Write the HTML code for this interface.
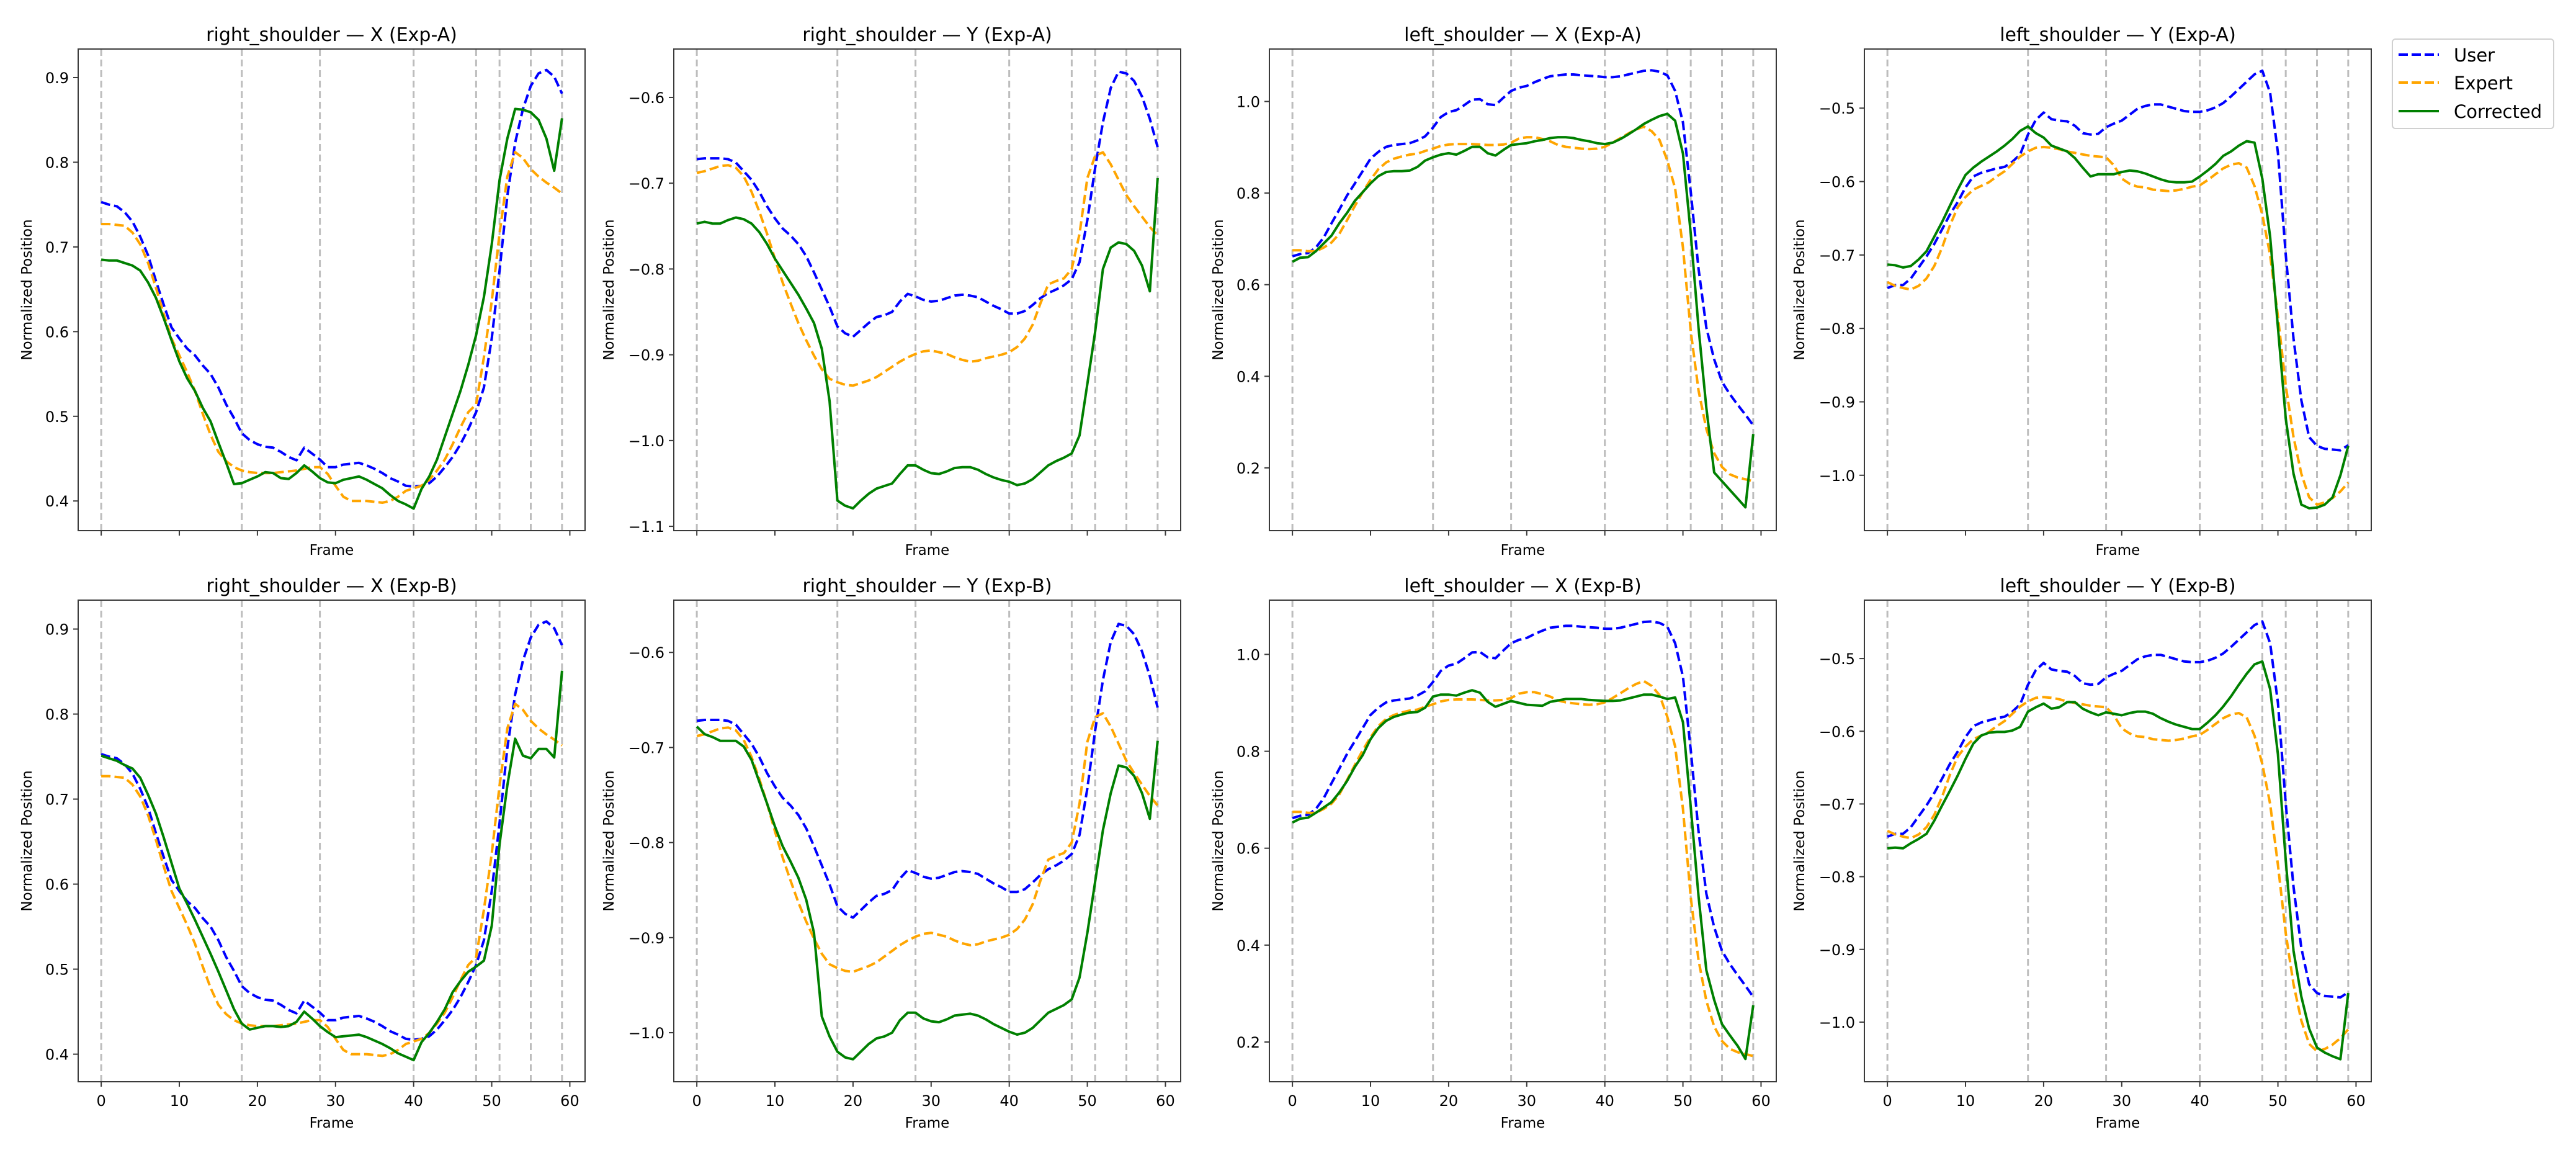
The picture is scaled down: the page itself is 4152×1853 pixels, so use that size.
<!DOCTYPE html>
<html><head><meta charset="utf-8"><title>Shoulder trajectories</title>
<style>
html,body{margin:0;padding:0;background:#fff;}
svg{display:block;font-family:"DejaVu Sans","Liberation Sans",sans-serif;}
</style></head>
<body>
<svg id="fig" width="4152" height="1853" viewBox="0 0 4152 1853" xmlns="http://www.w3.org/2000/svg">
<rect x="0" y="0" width="4152" height="1853" fill="#fff"/>
<g id="legend">
<rect x="3856" y="63" width="260" height="144" rx="5" fill="#fff" stroke="#d0d0d0" stroke-width="2"/>
<g><line x1="3866" y1="88" x2="3931" y2="88" stroke="#0000ff" stroke-width="4" stroke-dasharray="15 6"/><text x="3955" y="99" font-size="29" fill="#000">User</text></g>
<g><line x1="3866" y1="133" x2="3931" y2="133" stroke="#ffa500" stroke-width="4" stroke-dasharray="15 6"/><text x="3955" y="144" font-size="29" fill="#000">Expert</text></g>
<g><line x1="3866" y1="179" x2="3931" y2="179" stroke="#008000" stroke-width="4"/><text x="3955" y="190" font-size="29" fill="#000">Corrected</text></g>
</g>
</svg>
<script>
const frames = Array.from({length:60},(_, i)=>i);
const keyFrames = [0,18,28,40,48,51,55,59];
const xTicks = [0,10,20,30,40,50,60];

const rsxUser = [0.753,0.750,0.748,0.741,0.730,0.712,0.690,0.660,0.632,0.605,0.592,0.580,0.572,0.560,0.550,0.534,0.514,0.498,0.480,0.472,0.467,0.464,0.463,0.458,0.452,0.448,0.463,0.456,0.449,0.440,0.440,0.443,0.444,0.445,0.442,0.438,0.433,0.427,0.423,0.418,0.417,0.418,0.421,0.429,0.440,0.452,0.467,0.485,0.505,0.534,0.592,0.672,0.760,0.823,0.863,0.890,0.905,0.909,0.901,0.881];
const rsxExpert = [0.727,0.727,0.726,0.725,0.717,0.703,0.681,0.652,0.621,0.592,0.572,0.552,0.530,0.503,0.478,0.458,0.447,0.440,0.436,0.434,0.433,0.433,0.433,0.434,0.435,0.436,0.438,0.440,0.440,0.432,0.418,0.405,0.400,0.400,0.400,0.399,0.398,0.400,0.405,0.412,0.415,0.418,0.425,0.436,0.449,0.467,0.487,0.505,0.514,0.570,0.636,0.716,0.783,0.812,0.805,0.792,0.783,0.776,0.770,0.763];
const rsxCorrA = [0.685,0.684,0.684,0.681,0.678,0.672,0.658,0.640,0.616,0.590,0.565,0.545,0.530,0.510,0.494,0.469,0.445,0.420,0.421,0.425,0.429,0.434,0.433,0.427,0.426,0.433,0.442,0.435,0.427,0.422,0.421,0.425,0.427,0.429,0.425,0.420,0.415,0.407,0.400,0.396,0.391,0.414,0.429,0.449,0.476,0.503,0.530,0.561,0.596,0.641,0.703,0.779,0.828,0.863,0.862,0.859,0.850,0.828,0.790,0.852];
const rsxCorrB = [0.751,0.748,0.745,0.740,0.736,0.725,0.705,0.683,0.655,0.625,0.595,0.577,0.558,0.538,0.518,0.497,0.475,0.453,0.436,0.429,0.431,0.433,0.433,0.432,0.433,0.438,0.450,0.442,0.433,0.426,0.420,0.421,0.422,0.423,0.420,0.416,0.412,0.407,0.401,0.397,0.393,0.414,0.425,0.438,0.453,0.473,0.486,0.497,0.503,0.510,0.551,0.647,0.716,0.771,0.751,0.748,0.759,0.759,0.749,0.851];

const rsyUser = [-0.672,-0.671,-0.671,-0.671,-0.672,-0.676,-0.686,-0.696,-0.710,-0.727,-0.741,-0.753,-0.761,-0.771,-0.785,-0.804,-0.824,-0.844,-0.867,-0.875,-0.879,-0.871,-0.863,-0.856,-0.854,-0.850,-0.838,-0.829,-0.832,-0.836,-0.838,-0.837,-0.834,-0.831,-0.830,-0.831,-0.833,-0.838,-0.843,-0.847,-0.852,-0.852,-0.849,-0.842,-0.834,-0.828,-0.824,-0.819,-0.812,-0.792,-0.743,-0.682,-0.629,-0.589,-0.570,-0.572,-0.581,-0.599,-0.625,-0.658];
const rsyExpert = [-0.688,-0.686,-0.683,-0.680,-0.679,-0.682,-0.692,-0.710,-0.733,-0.759,-0.788,-0.816,-0.840,-0.863,-0.883,-0.901,-0.917,-0.928,-0.932,-0.935,-0.936,-0.933,-0.930,-0.926,-0.920,-0.914,-0.908,-0.903,-0.899,-0.896,-0.895,-0.897,-0.899,-0.903,-0.906,-0.908,-0.907,-0.904,-0.902,-0.900,-0.897,-0.891,-0.881,-0.865,-0.840,-0.818,-0.814,-0.811,-0.800,-0.759,-0.694,-0.668,-0.664,-0.678,-0.696,-0.714,-0.727,-0.739,-0.751,-0.761];
const rsyCorrA = [-0.747,-0.745,-0.747,-0.747,-0.743,-0.740,-0.742,-0.747,-0.757,-0.771,-0.788,-0.802,-0.816,-0.830,-0.846,-0.863,-0.893,-0.954,-1.070,-1.076,-1.079,-1.070,-1.062,-1.056,-1.053,-1.050,-1.039,-1.029,-1.029,-1.034,-1.038,-1.039,-1.036,-1.032,-1.031,-1.031,-1.034,-1.039,-1.043,-1.046,-1.048,-1.052,-1.050,-1.045,-1.037,-1.029,-1.024,-1.020,-1.015,-0.994,-0.934,-0.873,-0.800,-0.775,-0.769,-0.771,-0.779,-0.796,-0.826,-0.694];
const rsyCorrB = [-0.678,-0.686,-0.689,-0.693,-0.693,-0.693,-0.699,-0.713,-0.736,-0.759,-0.783,-0.804,-0.820,-0.837,-0.860,-0.895,-0.983,-1.004,-1.020,-1.026,-1.028,-1.020,-1.012,-1.006,-1.004,-1.000,-0.987,-0.979,-0.979,-0.985,-0.988,-0.989,-0.986,-0.982,-0.981,-0.980,-0.982,-0.986,-0.991,-0.995,-0.999,-1.002,-1.000,-0.995,-0.987,-0.979,-0.975,-0.971,-0.965,-0.942,-0.895,-0.841,-0.787,-0.748,-0.719,-0.721,-0.730,-0.748,-0.775,-0.693];

const lsxUser = [0.662,0.667,0.669,0.681,0.703,0.734,0.764,0.795,0.821,0.848,0.875,0.890,0.901,0.905,0.907,0.909,0.915,0.924,0.943,0.966,0.977,0.981,0.992,1.004,1.005,0.994,0.992,1.008,1.023,1.030,1.034,1.042,1.049,1.055,1.057,1.059,1.059,1.057,1.056,1.055,1.053,1.053,1.055,1.059,1.063,1.067,1.068,1.065,1.057,1.023,0.954,0.802,0.635,0.506,0.437,0.388,0.361,0.338,0.316,0.293];
const lsxExpert = [0.675,0.675,0.673,0.673,0.681,0.692,0.711,0.741,0.772,0.802,0.829,0.852,0.867,0.875,0.880,0.884,0.886,0.892,0.897,0.903,0.906,0.907,0.907,0.907,0.906,0.905,0.905,0.906,0.910,0.919,0.922,0.922,0.918,0.913,0.905,0.901,0.899,0.897,0.896,0.897,0.901,0.910,0.920,0.930,0.939,0.945,0.935,0.916,0.871,0.810,0.681,0.498,0.369,0.285,0.232,0.202,0.186,0.179,0.175,0.171];
const lsxCorrA = [0.650,0.659,0.660,0.673,0.690,0.707,0.734,0.757,0.783,0.802,0.821,0.837,0.846,0.848,0.848,0.849,0.857,0.871,0.878,0.884,0.887,0.884,0.892,0.901,0.901,0.887,0.882,0.894,0.905,0.907,0.909,0.913,0.916,0.920,0.922,0.922,0.920,0.916,0.913,0.909,0.907,0.910,0.918,0.928,0.939,0.951,0.960,0.968,0.973,0.958,0.886,0.711,0.506,0.331,0.190,0.171,0.152,0.133,0.114,0.274];
const lsxCorrB = [0.653,0.661,0.663,0.673,0.684,0.695,0.715,0.739,0.768,0.792,0.825,0.848,0.863,0.871,0.876,0.880,0.881,0.890,0.913,0.917,0.917,0.915,0.921,0.926,0.921,0.902,0.892,0.898,0.904,0.900,0.896,0.895,0.894,0.902,0.905,0.908,0.908,0.908,0.906,0.905,0.904,0.904,0.905,0.909,0.913,0.917,0.917,0.913,0.908,0.911,0.860,0.684,0.501,0.348,0.287,0.237,0.214,0.192,0.165,0.276];

const lsyUser = [-0.745,-0.741,-0.741,-0.732,-0.717,-0.702,-0.685,-0.665,-0.645,-0.628,-0.608,-0.593,-0.588,-0.585,-0.582,-0.580,-0.573,-0.563,-0.536,-0.516,-0.506,-0.515,-0.517,-0.518,-0.524,-0.534,-0.536,-0.535,-0.526,-0.521,-0.517,-0.509,-0.501,-0.497,-0.495,-0.495,-0.498,-0.501,-0.504,-0.505,-0.505,-0.503,-0.499,-0.493,-0.484,-0.474,-0.464,-0.454,-0.449,-0.479,-0.561,-0.700,-0.814,-0.898,-0.948,-0.960,-0.964,-0.965,-0.966,-0.959];
const lsyExpert = [-0.737,-0.742,-0.745,-0.747,-0.742,-0.732,-0.715,-0.690,-0.660,-0.635,-0.621,-0.611,-0.606,-0.601,-0.593,-0.586,-0.576,-0.566,-0.559,-0.554,-0.553,-0.554,-0.556,-0.559,-0.561,-0.563,-0.565,-0.566,-0.567,-0.578,-0.596,-0.603,-0.607,-0.608,-0.611,-0.612,-0.613,-0.612,-0.610,-0.607,-0.605,-0.598,-0.590,-0.582,-0.577,-0.575,-0.581,-0.606,-0.645,-0.700,-0.784,-0.878,-0.948,-0.998,-1.030,-1.040,-1.037,-1.031,-1.022,-1.010];
const lsyCorrA = [-0.713,-0.714,-0.717,-0.715,-0.706,-0.695,-0.675,-0.655,-0.633,-0.611,-0.591,-0.581,-0.573,-0.566,-0.559,-0.551,-0.542,-0.531,-0.525,-0.534,-0.540,-0.551,-0.555,-0.559,-0.568,-0.581,-0.593,-0.590,-0.590,-0.590,-0.587,-0.585,-0.586,-0.589,-0.593,-0.597,-0.600,-0.601,-0.601,-0.600,-0.593,-0.585,-0.576,-0.565,-0.559,-0.551,-0.545,-0.547,-0.596,-0.675,-0.799,-0.923,-0.998,-1.040,-1.045,-1.044,-1.040,-1.030,-1.000,-0.960];
const lsyCorrB = [-0.761,-0.760,-0.761,-0.754,-0.748,-0.741,-0.723,-0.702,-0.682,-0.661,-0.638,-0.617,-0.606,-0.602,-0.601,-0.601,-0.599,-0.594,-0.573,-0.567,-0.562,-0.569,-0.567,-0.560,-0.560,-0.569,-0.574,-0.578,-0.574,-0.576,-0.578,-0.575,-0.573,-0.573,-0.576,-0.582,-0.587,-0.591,-0.594,-0.597,-0.597,-0.588,-0.578,-0.566,-0.552,-0.536,-0.521,-0.508,-0.504,-0.542,-0.632,-0.778,-0.902,-0.965,-1.009,-1.035,-1.042,-1.047,-1.051,-0.960];

const yTicksRSX = [0.4,0.5,0.6,0.7,0.8,0.9];
const yTicksRSYA = [-1.1,-1.0,-0.9,-0.8,-0.7,-0.6];
const yTicksRSYB = [-1.0,-0.9,-0.8,-0.7,-0.6];
const yTicksLSX = [0.2,0.4,0.6,0.8,1.0];
const yTicksLSY = [-1.0,-0.9,-0.8,-0.7,-0.6,-0.5];

const panels = [
 {name:'rsx-a', title:'right_shoulder \u2014 X (Exp-A)', col:0,row:0, user:rsxUser, expert:rsxExpert, corr:rsxCorrA, ylim:[0.365,0.9337], yt:yTicksRSX},
 {name:'rsy-a', title:'right_shoulder \u2014 Y (Exp-A)', col:1,row:0, user:rsyUser, expert:rsyExpert, corr:rsyCorrA, ylim:[-1.105,-0.5436], yt:yTicksRSYA},
 {name:'lsx-a', title:'left_shoulder \u2014 X (Exp-A)', col:2,row:0, user:lsxUser, expert:lsxExpert, corr:lsxCorrA, ylim:[0.063,1.1145], yt:yTicksLSX},
 {name:'lsy-a', title:'left_shoulder \u2014 Y (Exp-A)', col:3,row:0, user:lsyUser, expert:lsyExpert, corr:lsyCorrA, ylim:[-1.0754,-0.4195], yt:yTicksLSY},
 {name:'rsx-b', title:'right_shoulder \u2014 X (Exp-B)', col:0,row:1, user:rsxUser, expert:rsxExpert, corr:rsxCorrB, ylim:[0.3676,0.934], yt:yTicksRSX},
 {name:'rsy-b', title:'right_shoulder \u2014 Y (Exp-B)', col:1,row:1, user:rsyUser, expert:rsyExpert, corr:rsyCorrB, ylim:[-1.0516,-0.545], yt:yTicksRSYB},
 {name:'lsx-b', title:'left_shoulder \u2014 X (Exp-B)', col:2,row:1, user:lsxUser, expert:lsxExpert, corr:lsxCorrB, ylim:[0.118,1.112], yt:yTicksLSX},
 {name:'lsy-b', title:'left_shoulder \u2014 Y (Exp-B)', col:3,row:1, user:lsyUser, expert:lsyExpert, corr:lsyCorrB, ylim:[-1.082,-0.4197], yt:yTicksLSY}
];

const NS='http://www.w3.org/2000/svg';
const svg=document.getElementById('fig');
const colLeft=[126,1086,2046,3005], rowTop=[79,967], W=817, H=776;
const XMIN=-2.95, XMAX=61.95;
function mk(tag,attrs,parent){const e=document.createElementNS(NS,tag);for(const k in attrs)e.setAttribute(k,attrs[k]);parent.appendChild(e);return e;}
function fmt(v){const s=v.toFixed(1);return v<0?'\u2212'+s.slice(1):s;}

panels.forEach(p=>{
  const L=colLeft[p.col], T=rowTop[p.row];
  const sx=f=>L+(f-XMIN)/(XMAX-XMIN)*W;
  const sy=v=>T+(p.ylim[1]-v)/(p.ylim[1]-p.ylim[0])*H;
  const g=mk('g',{},svg);
  
  
  const clipId='clip-'+p.name;
  const cp=mk('clipPath',{id:clipId},g);
  mk('rect',{x:L,y:T,width:W,height:H},cp);
  // key frame lines
  const kg=mk('g',{'clip-path':'url(#'+clipId+')'},g);
  
  
  keyFrames.forEach(k=>{
    const ln=mk('line',{x1:sx(k),x2:sx(k),y1:T,y2:T+H,stroke:'#bdbdbd','stroke-width':3,'stroke-dasharray':'11 6'},kg);
    
    
  });
  const lg=mk('g',{'clip-path':'url(#'+clipId+')',fill:'none','stroke-linejoin':'round'},g);
  const series=[['user',p.user,'#0000ff','15 6.5'],['expert',p.expert,'#ffa500','15 6.5'],['corrected',p.corr,'#008000','']];
  series.forEach(s=>{
    const d=s[1].map((v,i)=>(i?'L':'M')+sx(frames[i]).toFixed(1)+' '+sy(v).toFixed(1)).join(' ');
    const path=mk('path',{d:d,stroke:s[2],'stroke-width':4},lg);
    if(s[3])path.setAttribute('stroke-dasharray',s[3]);
    
    
  });
  // spines
  const fr=mk('rect',{x:L,y:T,width:W,height:H,fill:'none',stroke:'#3a3a3a','stroke-width':2},g);
  
  
  // x ticks
  const xg=mk('g',{},g);
  
  
  xTicks.forEach(t=>{
    mk('line',{x1:sx(t),x2:sx(t),y1:T+H,y2:T+H+8,stroke:'#3a3a3a','stroke-width':2},xg);
    if(p.row===1){
      const tx=mk('text',{x:sx(t),y:T+H+39,'font-size':24,'text-anchor':'middle',fill:'#000'},xg);
      tx.textContent=String(t);
      
      
    }
  });
  const xl=mk('text',{x:L+W/2,y:p.row===1?T+H+74:T+H+39,'font-size':23,'text-anchor':'middle',fill:'#000'},g);
  xl.textContent='Frame';
  
  
  // y ticks
  const yg=mk('g',{},g);
  
  
  p.yt.forEach(t=>{
    mk('line',{x1:L-8,x2:L,y1:sy(t),y2:sy(t),stroke:'#3a3a3a','stroke-width':2},yg);
    const ty=mk('text',{x:L-15,y:sy(t)+9,'font-size':24,'text-anchor':'end',fill:'#000'},yg);
    ty.textContent=fmt(t);
    
    
  });
  const neg=p.yt[0]<0;
  const yx=L-(neg?105:83), yy=T+H/2;
  const yl=mk('text',{x:yx,y:yy+8,'font-size':23,'text-anchor':'middle',fill:'#000',transform:'rotate(-90 '+yx+' '+yy+')'},g);
  yl.textContent='Normalized Position';
  
  
  const tt=mk('text',{x:L+W/2,y:T-13,'font-size':30,'text-anchor':'middle',fill:'#000'},g);
  tt.textContent=p.title;
  
  
});
svg.appendChild(document.getElementById('legend'));
</script>
</body></html>
